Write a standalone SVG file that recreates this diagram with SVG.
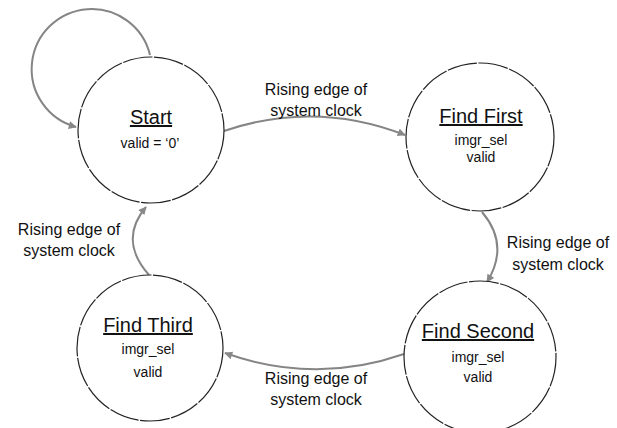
<svg xmlns="http://www.w3.org/2000/svg" width="617" height="428" viewBox="0 0 617 428">
<style>
.node{fill:#fff;stroke:#222;stroke-width:1.2;stroke-dasharray:30 1.5}
.edge{fill:none;stroke:#858585;stroke-width:2}
.t{font-family:"Liberation Sans",Arial,sans-serif;fill:#111;text-anchor:middle}
.title{font-size:20px;text-decoration:underline}
.sub{font-size:14px}
.lbl{font-size:16px}
</style>
<defs>
<marker id="arr" viewBox="0 0 10 10" refX="9" refY="5" markerWidth="10" markerHeight="8" markerUnits="userSpaceOnUse" orient="auto">
<path d="M0,0 L10,5 L0,10 z" fill="#888"/>
</marker>
</defs>
<rect width="617" height="428" fill="#fff"/>
<g id="edges">
<path class="edge" d="M150,55 A60,60 0 1 0 76,127" marker-end="url(#arr)" stroke="#aaa"/>
<path class="edge" d="M224,131 Q315,100 405,135" marker-end="url(#arr)"/>
<path class="edge" d="M482,212 Q510,245 487,282" marker-end="url(#arr)"/>
<path class="edge" d="M404,354 Q315,385 225,353" marker-end="url(#arr)"/>
<path class="edge" d="M149,275 Q118,240 146,207" marker-end="url(#arr)" stroke="#a8a8a8"/>
</g>
<g id="labels">
<text class="t lbl" x="316" y="95">Rising edge of</text>
<text class="t lbl" x="316" y="116">system clock</text>
<text class="t lbl" x="558" y="248">Rising edge of</text>
<text class="t lbl" x="558" y="270">system clock</text>
<text class="t lbl" x="316" y="384">Rising edge of</text>
<text class="t lbl" x="316" y="405">system clock</text>
<text class="t lbl" x="69" y="235">Rising edge of</text>
<text class="t lbl" x="69" y="256">system clock</text>
</g>
<g id="start">
<circle class="node" cx="151" cy="130" r="73"/>
<text class="t title" x="151" y="124">Start</text>
<text class="t sub" x="150" y="148">valid = ‘0’</text>
</g>
<g id="find-first">
<circle class="node" cx="480" cy="137" r="74"/>
<text class="t title" x="481" y="123">Find First</text>
<text class="t sub" x="481" y="145">imgr_sel</text>
<text class="t sub" x="481" y="162">valid</text>
</g>
<g id="find-second">
<circle class="node" cx="480" cy="357" r="76"/>
<text class="t title" x="478" y="338">Find Second</text>
<text class="t sub" x="478" y="362">imgr_sel</text>
<text class="t sub" x="478" y="382">valid</text>
</g>
<g id="find-third">
<circle class="node" cx="150" cy="348" r="73"/>
<text class="t title" x="148" y="332">Find Third</text>
<text class="t sub" x="148" y="354">imgr_sel</text>
<text class="t sub" x="148" y="377">valid</text>
</g>
</svg>
